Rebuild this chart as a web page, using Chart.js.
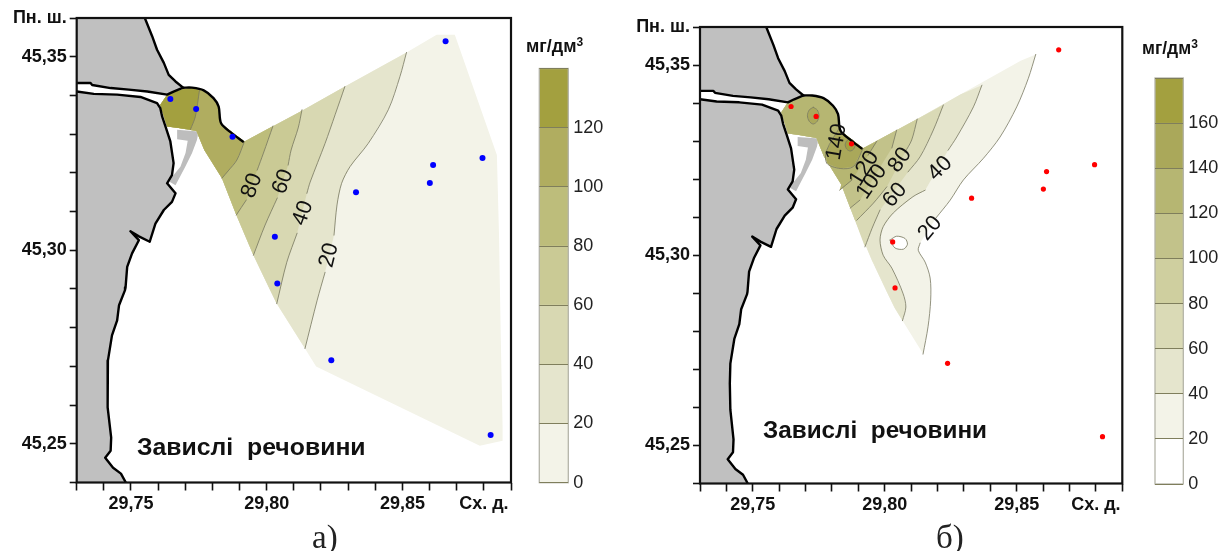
<!DOCTYPE html>
<html lang="uk"><head><meta charset="utf-8">
<script src="https://cdn.jsdelivr.net/npm/chart.js@4/dist/chart.umd.js"></script>
<style>
html,body{margin:0;padding:0;background:#fff;width:1222px;height:551px;overflow:hidden}
canvas{position:absolute;display:block}
.t{position:absolute;white-space:pre;line-height:1;color:#111;font-family:"Liberation Sans",Arial,sans-serif;transform:translateY(-50%);z-index:5}
.b{font-weight:bold}
.s{font-family:"Liberation Serif",serif;font-size:33px;color:#222}
sup{font-size:12px;line-height:0;vertical-align:6px}
</style></head><body>
<div id="wrap"></div>
<div class="t b" style="left:137px;top:447px;font-size:24.8px">Завислі  речовини</div>
<div class="t b" style="left:763px;top:430px;font-size:24.3px">Завислі  речовини</div>
<div class="t b" style="left:526px;top:46px;font-size:18px">мг/дм<sup>3</sup></div>
<div class="t b" style="left:1142px;top:49px;font-size:17.5px">мг/дм<sup>3</sup></div>
<div class="t s" style="left:312px;top:537px">а)</div>
<div class="t s" style="left:936px;top:537px">б)</div>
<script>
// ---------- shared geography: [longitude, latitude] ----------
const northLand=[[29.73,45.36],[29.7551,45.36],[29.7578,45.3553],[29.7596,45.3518],[29.7621,45.3484],[29.7639,45.3453],[29.7664,45.3436],[29.7692,45.3420],[29.7657,45.3410],[29.7633,45.3402],[29.7560,45.3410],[29.7492,45.3415],[29.7425,45.3419],[29.7357,45.3427],[29.7351,45.3432],[29.73,45.3432]];
const southLand=[[29.73,45.3410],[29.7363,45.3404],[29.7449,45.3402],[29.7535,45.3396],[29.7596,45.3380],[29.7608,45.3367],[29.7615,45.3345],[29.7627,45.3320],[29.7645,45.3281],[29.7657,45.3225],[29.7651,45.3194],[29.7633,45.3173],[29.7664,45.3147],[29.7651,45.3125],[29.7621,45.3104],[29.7590,45.3069],[29.7569,45.3022],[29.7529,45.3036],[29.7498,45.3049],[29.7529,45.3026],[29.7504,45.2992],[29.7486,45.2957],[29.7480,45.2904],[29.7478,45.2897],[29.7456,45.2858],[29.7449,45.2819],[29.7430,45.2780],[29.7415,45.2715],[29.7413,45.2663],[29.7415,45.2594],[29.7427,45.2516],[29.7425,45.2482],[29.7405,45.2464],[29.7434,45.2438],[29.7463,45.2423],[29.7481,45.2400],[29.73,45.24]];
const dam=[[29.7692,45.3420],[29.7725,45.3420],[29.7768,45.3413],[29.7804,45.3393],[29.7823,45.3371],[29.7832,45.3328],[29.7872,45.3302],[29.7912,45.3281]];
const pier=[[29.7670,45.3311],[29.7749,45.3307],[29.7743,45.3285],[29.7725,45.3251],[29.7700,45.3216],[29.7664,45.3168],[29.7642,45.3177],[29.7652,45.3190],[29.7682,45.3216],[29.7701,45.3251],[29.7709,45.3283],[29.7670,45.3287]];
const stationLon=[29.7645,29.7740,29.7874,29.8030,29.8039,29.8659,29.8795,29.8613,29.8601,29.8329,29.8238,29.8825];
const stationLat=[45.3391,45.3365,45.3293,45.3035,45.2914,45.3540,45.3238,45.3220,45.3174,45.3150,45.2716,45.2523];
const hull=[[29.8141,45.2746],[29.8037,45.2862],[29.8007,45.2905],[29.7951,45.2987],[29.7888,45.3091],[29.7835,45.3186],[29.7770,45.3259],[29.7741,45.3308],[29.7675,45.3316],[29.7633,45.3320],[29.7608,45.3376],[29.7633,45.3402],[29.7692,45.3416],[29.7725,45.3420],[29.7768,45.3413],[29.7804,45.3393],[29.7823,45.3371],[29.7829,45.3329],[29.7918,45.3281],[29.8123,45.3358],[29.8288,45.3423],[29.8515,45.3511],[29.8626,45.3557],[29.8693,45.3557],[29.8848,45.3246],[29.8856,45.3035],[29.8862,45.2785],[29.8869,45.2544],[29.8869,45.2508],[29.8785,45.2495],[29.8182,45.2700]];
const G=null; // a gap in a contour, where its label sits
// ---------- panel a contours ----------
const a20=[[29.8515,45.3511],[29.8491,45.3449],[29.8448,45.3363],[29.8374,45.3276],[29.8307,45.3216],[29.8276,45.3173],[29.8259,45.3117],[29.8248,45.3039],G,[29.8215,45.2943],[29.8186,45.2871],[29.8141,45.2746]];
const a40=[[29.8288,45.3423],[29.8252,45.3350],[29.8215,45.3276],[29.8160,45.3176],[29.8148,45.3147],G,[29.8112,45.3044],[29.8074,45.2969],[29.8037,45.2862]];
const a60=[[29.8130,45.3363],[29.8116,45.3316],[29.8090,45.3259],[29.8079,45.3220],G,[29.8039,45.3135],[29.7994,45.3065],[29.7951,45.2987]];
const a80=[[29.8023,45.3321],[29.7988,45.3251],[29.7965,45.3207],G,[29.7925,45.3130],[29.7888,45.3091]];
const a100=[[29.7918,45.3281],[29.7890,45.3233],[29.7858,45.3205],[29.7835,45.3186]];
const a120=[[29.7752,45.3412],[29.7737,45.3345],[29.7719,45.3312]];
const aLabels=[["80",29.7946,45.3167,-70],["60",29.8060,45.3177,-70],["40",29.8134,45.3096,-70],["20",29.8230,45.2987,-76]];
// ---------- panel b contours ----------
const b20=[[29.8572,45.3528],[29.8544,45.3465],[29.8500,45.3390],[29.8437,45.3311],[29.8374,45.3255],[29.8298,45.3198],[29.8248,45.3145],[29.8194,45.3098],G,[29.8134,45.3032],[29.8127,45.3013],[29.8153,45.2982],[29.8172,45.2940],[29.8174,45.2882],[29.8164,45.2812],[29.8145,45.2740]];
const b40=[[29.8368,45.3447],[29.8336,45.3390],[29.8273,45.3311],[29.8240,45.3276],G,[29.8153,45.3171],[29.8107,45.3154],[29.8032,45.3111],[29.7994,45.3075],[29.7982,45.3040],[29.7994,45.3000],[29.8027,45.2966],[29.8069,45.2900],[29.8080,45.2864],[29.8067,45.2828]];
const b60=[[29.8222,45.3395],[29.8184,45.3329],[29.8134,45.3259],[29.8088,45.3219],G,[29.7982,45.3119],[29.7952,45.3071],[29.7925,45.3022]];
const b80=[[29.8123,45.3358],[29.8102,45.3303],[29.8077,45.3271],G,[29.8008,45.3180],[29.7957,45.3137],[29.7894,45.3092]];
const b100=[[29.8045,45.3329],[29.8027,45.3282],G,[29.7906,45.3145],[29.7869,45.3124]];
const b120=[[29.7970,45.3300],[29.7937,45.3263],G,[29.7876,45.3198],[29.7829,45.3171]];
const b140=[[29.7918,45.3281],[29.7881,45.3233],[29.7831,45.3228],[29.7780,45.3242],[29.7780,45.3276],[29.7831,45.3338]];
const bPocketS2=[[29.7729,45.3389],[29.7744,45.3382],[29.7751,45.3367],[29.7744,45.3352],[29.7729,45.3345],[29.7714,45.3352],[29.7707,45.3367],[29.7714,45.3382],[29.7729,45.3389]];
const bPocketS3=[[29.7869,45.3306],[29.7882,45.3301],[29.7888,45.3290],[29.7882,45.3279],[29.7869,45.3274],[29.7856,45.3279],[29.7850,45.3290],[29.7856,45.3301],[29.7869,45.3306]];
const bPocketS4=[[29.8020,45.3040],[29.8045,45.3050],[29.8077,45.3044],[29.8086,45.3029],[29.8071,45.3016],[29.8039,45.3019],[29.8020,45.3040]];
const bLabels=[["140",29.7818,45.3298,-80],["120",29.7923,45.3228,-58],["100",29.7951,45.3193,-55],["80",29.8058,45.3250,-55],["60",29.8039,45.3158,-50],["40",29.8210,45.3228,-45],["20",29.8172,45.3071,-50]];
// ---------- colour scales ----------
const legendA=[20,20,20,20,20,20,20];
const coloursA=["#f3f3e8","#e5e5cd","#d8d8b2","#caca95","#bdbd7b","#b0ad60","#a3a03f"];
const legendB=[20,20,20,20,20,20,20,20,20];
const coloursB=["#ffffff","#f3f3e8","#e5e5cd","#dadab6","#cfcf9f","#c2c28a","#b6b672","#aaa85a","#a3a03f"];

const pts=a=>a.map(p=>p?{x:p[0],y:p[1]}:{x:null,y:null});
const poly=(a,color)=>({data:pts(a.filter(Boolean)),polyColor:color,showLine:false,pointRadius:0});
const line=(a,color,w,t)=>({data:pts(a),showLine:true,fill:false,borderColor:color,borderWidth:w,pointRadius:0,tension:t||0,spanGaps:false,borderJoinStyle:'round',borderCapStyle:'round'});
const zone=(contour,i,j,color)=>poly(hull.slice(i,j+1).concat(contour.filter(Boolean)),color);

const polyPlugin={id:'polyFill',beforeDatasetDraw(chart,{index,meta}){
  const d=chart.data.datasets[index]; if(!d.polyColor)return;
  const c=chart.ctx;c.save();c.beginPath();
  meta.data.forEach((p,i)=>i?c.lineTo(p.x,p.y):c.moveTo(p.x,p.y));
  c.closePath();c.fillStyle=d.polyColor;c.fill();c.restore();
}};
const framePlugin={id:'frameBox',afterDatasetsDraw(chart,a,o){
  const {left,top,width,height}=chart.chartArea,c=chart.ctx;
  c.save();c.strokeStyle=o.color;c.lineWidth=o.width;c.strokeRect(left,top,width,height);c.restore();
}};
const labelPlugin={id:'contourLabels',afterDatasetsDraw(chart,a,o){
  const c=chart.ctx;
  (o.items||[]).forEach(([t,lon,lat,ang])=>{
    c.save();c.translate(chart.scales.x.getPixelForValue(lon),chart.scales.y.getPixelForValue(lat));
    c.rotate(ang*Math.PI/180);c.font='22px "Liberation Sans",Arial,sans-serif';c.fillStyle='#111';
    c.textAlign='center';c.textBaseline='middle';c.fillText(t,0,0);c.restore();
  });
}};
function addCanvas(l,t,w,h){
  const cv=document.createElement('canvas');cv.width=w;cv.height=h;
  cv.style.cssText=`left:${l}px;top:${t}px;width:${w}px;height:${h}px`;
  document.getElementById('wrap').appendChild(cv);return cv;
}
function mapChart(o){
  const cv=addCanvas(o.l,0,o.w,551);
  const stations=stationLon.map((x,i)=>({x,y:stationLat[i]}));
  const ds=[
    poly(northLand,'#c0c0c0'),poly(southLand,'#c0c0c0'),poly(pier,'#bdbdbd'),
    ...o.layers,
    line(northLand.slice(1),'#000',2.4),line(southLand.slice(0,-1),'#000',2.4),line(dam,'#000',2.4,.3),
    {data:stations,showLine:false,pointRadius:o.r,pointBackgroundColor:o.dot,pointBorderWidth:0}
  ].reverse();
  new Chart(cv,{type:'scatter',data:{datasets:ds},plugins:[polyPlugin,framePlugin,labelPlugin],options:{
    responsive:false,animation:false,events:[],
    layout:{padding:{left:0,top:o.top,right:o.w-o.right,bottom:0}},
    plugins:{legend:{display:false},tooltip:{enabled:false},frameBox:{color:'#111',width:2.2},contourLabels:{items:o.labels}},
    scales:{
      x:{type:'linear',min:29.73,max:29.89,afterFit:s=>{s.height=551-o.bottom},
        ticks:{stepSize:.01,autoSkip:false,maxRotation:0,padding:3,color:'#111',font:{family:'"Liberation Sans",Arial',weight:'bold',size:18},
          callback:v=>{const k=Math.round(v*100);return k===2988?'Сх. д.':(k%5===0&&k>2973?v.toFixed(2).replace('.',','):'')}},
        grid:{drawOnChartArea:false,drawTicks:true,tickLength:8,tickColor:'#111',tickWidth:1.6},border:{display:false}},
      y:{type:'linear',min:45.24,max:45.36,afterFit:s=>{s.width=o.left},
        ticks:{stepSize:.01,autoSkip:false,padding:3,color:'#111',font:{family:'"Liberation Sans",Arial',weight:'bold',size:18},
          callback:v=>{const k=Math.round(v*100);return k===4536?'Пн. ш.':(k%5===0&&k>4524?v.toFixed(2).replace('.',','):'')}},
        grid:{drawOnChartArea:false,drawTicks:true,tickLength:7,tickColor:'#111',tickWidth:1.6},border:{display:false}}
    }}});
}
function legendChart(o){
  const cv=addCanvas(o.l,0,o.w,551);
  new Chart(cv,{type:'bar',data:{labels:['мг/дм³'],datasets:o.values.map((v,i)=>({data:[v],backgroundColor:o.colours[i],stack:'s',barPercentage:1,categoryPercentage:1}))},
    plugins:[framePlugin],options:{responsive:false,animation:false,events:[],
    layout:{padding:{left:o.barLeft,top:o.top,right:0,bottom:551-o.bottom}},
    plugins:{legend:{display:false},tooltip:{enabled:false},frameBox:{color:'#b4b4a8',width:1.3}},
    scales:{x:{display:false,stacked:true},
      y:{position:'right',stacked:true,min:0,max:o.max,afterFit:s=>{s.width=o.w-o.barRight},
        ticks:{stepSize:20,padding:5,color:'#222',font:{family:'"Liberation Sans",Arial',size:18},callback:v=>v<o.max?String(v):''},
        grid:{z:1,color:'#7f7e5c',lineWidth:1,drawTicks:false},border:{display:false}}}}});
}
const ink='#77775f',w=.8,T=.3;
mapChart({l:0,w:530,left:76.7,right:511,top:18,bottom:482.5,dot:'#0000ff',r:3,labels:aLabels,layers:[
  poly(hull,coloursA[0]),
  zone(a20,0,21,coloursA[1]),zone(a40,1,20,coloursA[2]),zone(a60,3,19,coloursA[3]),
  zone(a80,4,18,coloursA[4]),zone(a100,5,18,coloursA[5]),zone(a120,8,13,coloursA[6]),
  line(a20,ink,w,T),line(a40,ink,w,T),line(a60,ink,w,T),line(a80,ink,w,T),line(a100,ink,w,T),line(a120,ink,w,T)
]});
legendChart({l:530,w:85,barLeft:9.3,barRight:38.3,top:68.5,bottom:482.7,max:140,values:legendA,colours:coloursA});
mapChart({l:620,w:530,left:80,right:502.3,top:27,bottom:483.5,dot:'#ff0000',r:2.6,labels:bLabels,layers:[
  zone(b20,0,21,coloursB[1]),zone(b40,1,20,coloursB[2]),zone(b60,4,19,coloursB[3]),
  zone(b80,4,18,coloursB[4]),zone(b100,5,18,coloursB[5]),zone(b120,5,18,coloursB[6]),
  poly(b140.concat(hull.slice(17,18)),coloursB[7]),
  poly(bPocketS2,coloursB[7]),poly(bPocketS3,coloursB[8]),poly(bPocketS4,'#ffffff'),
  line(b20,ink,w,T),line(b40,ink,w,T),line(b60,ink,w,T),line(b80,ink,w,T),line(b100,ink,w,T),line(b120,ink,w,T),line(b140,ink,w,T),
  line(bPocketS2,ink,w,T),line(bPocketS3,ink,w,T),line(bPocketS4,ink,w,T)
]});
legendChart({l:1150,w:72,barLeft:5,barRight:33.3,top:78,bottom:484,max:180,values:legendB,colours:coloursB});
</script>
</body></html>
